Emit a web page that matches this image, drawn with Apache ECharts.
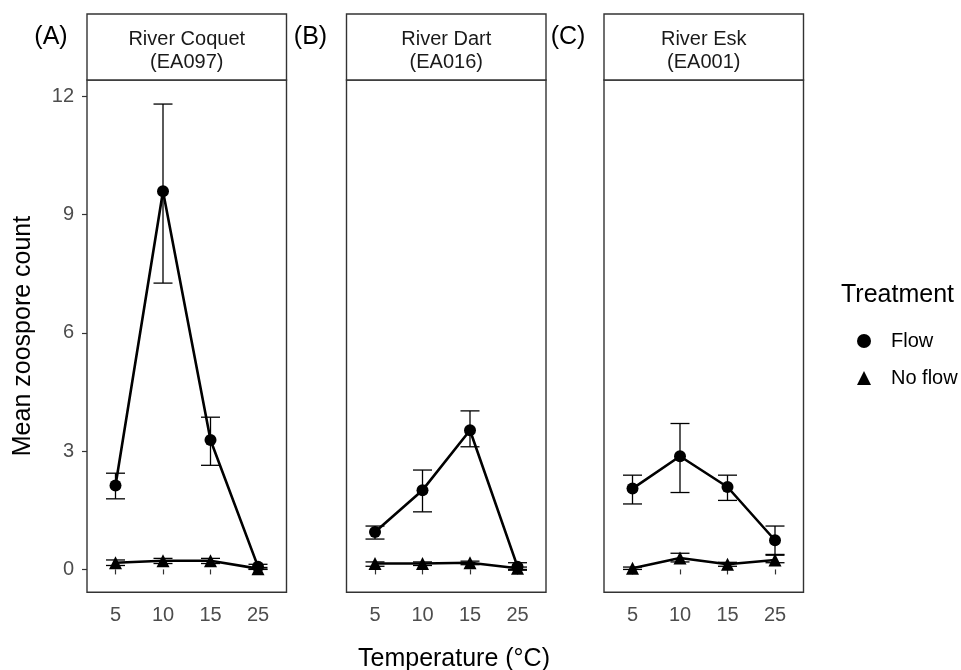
<!DOCTYPE html>
<html>
<head>
<meta charset="utf-8">
<script src="https://cdn.jsdelivr.net/npm/echarts@6/dist/echarts.min.js"></script>
<style>
  html, body { margin: 0; padding: 0; background: #fff; }
  #chart { width: 961px; height: 670px; }
</style>
</head>
<body>
<div id="chart"></div>
<script>
// temperatures (categories on x)
var tempLabels = ['5', '10', '15', '25'];
var yTicks = [0, 3, 6, 9, 12];

var riverNames = ['River Coquet', 'River Dart', 'River Esk'];
var riverCodes = ['(EA097)', '(EA016)', '(EA001)'];
var panelTags = ['(A)', '(B)', '(C)'];

// mean zoospore counts and error bar limits
var coquetFlow     = [2.13, 9.59, 3.28, 0.07];
var coquetFlowLo   = [1.79, 7.26, 2.64, 0.01];
var coquetFlowHi   = [2.44, 11.80, 3.86, 0.13];
var coquetNoFlow   = [0.17, 0.22, 0.22, 0.02];
var coquetNoFlowLo = [0.10, 0.15, 0.15, 0.00];
var coquetNoFlowHi = [0.24, 0.28, 0.28, 0.05];

var dartFlow     = [0.95, 2.01, 3.53, 0.07];
var dartFlowLo   = [0.77, 1.46, 3.11, -0.02];
var dartFlowHi   = [1.10, 2.52, 4.02, 0.17];
var dartNoFlow   = [0.15, 0.15, 0.17, 0.03];
var dartNoFlowLo = [0.08, 0.10, 0.12, 0.00];
var dartNoFlowHi = [0.19, 0.19, 0.21, 0.06];

var eskFlow     = [2.05, 2.87, 2.09, 0.74];
var eskFlowLo   = [1.66, 1.95, 1.75, 0.38];
var eskFlowHi   = [2.39, 3.70, 2.39, 1.10];
var eskNoFlow   = [0.03, 0.29, 0.13, 0.24];
var eskNoFlowLo = [0.00, 0.19, 0.08, 0.17];
var eskNoFlowHi = [0.06, 0.41, 0.18, 0.36];

var panels = [
  { flow: coquetFlow, flowLo: coquetFlowLo, flowHi: coquetFlowHi,
    noFlow: coquetNoFlow, noFlowLo: coquetNoFlowLo, noFlowHi: coquetNoFlowHi },
  { flow: dartFlow, flowLo: dartFlowLo, flowHi: dartFlowHi,
    noFlow: dartNoFlow, noFlowLo: dartNoFlowLo, noFlowHi: dartNoFlowHi },
  { flow: eskFlow, flowLo: eskFlowLo, flowHi: eskFlowHi,
    noFlow: eskNoFlow, noFlowLo: eskNoFlowLo, noFlowHi: eskNoFlowHi }
];

var font = 'Liberation Sans, Arial, sans-serif';
var gridLefts = [87, 346.5, 604];
var gridWidth = 199.5;
var gridTop = 80;
var gridHeight = 512.3;
var stripTop = 14;

var chart = echarts.init(document.getElementById('chart'), null, { renderer: 'canvas' });

function points(vals) {
  return vals.map(function (v, i) { return [i + 1, v]; });
}
function bars(lo, hi) {
  return lo.map(function (v, i) { return [i + 1, v, hi[i]]; });
}

function renderErrorBar(params, api) {
  var x = api.value(0);
  var pLo = api.coord([x, api.value(1)]);
  var pHi = api.coord([x, api.value(2)]);
  var half = api.size([0.2, 0])[0];
  var st = { stroke: '#000', lineWidth: 1.3 };
  return {
    type: 'group',
    children: [
      { type: 'line', shape: { x1: pLo[0], y1: pLo[1], x2: pHi[0], y2: pHi[1] }, style: st },
      { type: 'line', shape: { x1: pLo[0] - half, y1: pLo[1], x2: pLo[0] + half, y2: pLo[1] }, style: st },
      { type: 'line', shape: { x1: pHi[0] - half, y1: pHi[1], x2: pHi[0] + half, y2: pHi[1] }, style: st }
    ]
  };
}

var grids = [], xAxes = [], yAxes = [], series = [], graphics = [];

panels.forEach(function (p, k) {
  grids.push({
    left: gridLefts[k], top: gridTop, width: gridWidth, height: gridHeight,
    show: true, backgroundColor: '#fff', borderColor: '#333', borderWidth: 1.4,
    containLabel: false, outerBoundsMode: 'none'
  });
  xAxes.push({
    type: 'value', gridIndex: k, min: 0.4, max: 4.6,
    axisLine: { show: false },
    splitLine: { show: false },
    axisTick: { show: true, length: 5, customValues: [1, 2, 3, 4], lineStyle: { color: '#333', width: 1.2 } },
    axisLabel: {
      customValues: [1, 2, 3, 4], margin: 13,
      color: '#4D4D4D', fontSize: 20, fontFamily: font,
      formatter: function (v) { return tempLabels[Math.round(v) - 1]; }
    }
  });
  yAxes.push({
    type: 'value', gridIndex: k, min: -0.58, max: 12.41,
    axisLine: { show: false },
    splitLine: { show: false },
    axisTick: { show: k === 0, length: 5, customValues: yTicks, lineStyle: { color: '#333', width: 1.2 } },
    axisLabel: {
      show: k === 0, customValues: yTicks, margin: 13,
      color: '#4D4D4D', fontSize: 20, fontFamily: font
    }
  });

  series.push({
    type: 'custom', xAxisIndex: k, yAxisIndex: k, name: 'Flow',
    renderItem: renderErrorBar, data: bars(p.flowLo, p.flowHi),
    encode: { x: 0, y: [1, 2] }, silent: true, z: 3
  });
  series.push({
    type: 'custom', xAxisIndex: k, yAxisIndex: k, name: 'No flow',
    renderItem: renderErrorBar, data: bars(p.noFlowLo, p.noFlowHi),
    encode: { x: 0, y: [1, 2] }, silent: true, z: 3
  });
  series.push({
    type: 'line', name: 'Flow', xAxisIndex: k, yAxisIndex: k,
    data: points(p.flow), symbol: 'circle', symbolSize: 12,
    itemStyle: { color: '#000' }, lineStyle: { color: '#000', width: 2.6 },
    animation: false, z: 4
  });
  series.push({
    type: 'line', name: 'No flow', xAxisIndex: k, yAxisIndex: k,
    data: points(p.noFlow), symbol: 'triangle', symbolSize: 13,
    itemStyle: { color: '#000' }, lineStyle: { color: '#000', width: 2.6 },
    animation: false, z: 4
  });

  // facet strip
  graphics.push({
    type: 'rect',
    shape: { x: gridLefts[k], y: stripTop, width: gridWidth, height: gridTop - stripTop },
    style: { fill: '#fff', stroke: '#333', lineWidth: 1.4 }
  });
  graphics.push({
    type: 'text', x: gridLefts[k] + gridWidth / 2, y: 51,
    style: {
      text: riverNames[k] + '\n' + riverCodes[k], fill: '#1A1A1A',
      font: '20px ' + font, lineHeight: 23, align: 'center', verticalAlign: 'middle'
    }
  });
  graphics.push({
    type: 'text', x: gridLefts[k] - 36, y: 37,
    style: {
      text: panelTags[k], fill: '#000', font: '25px ' + font,
      align: 'center', verticalAlign: 'middle'
    }
  });
});

graphics.push({
  type: 'text', x: 23, y: 336, rotation: Math.PI / 2,
  style: { text: 'Mean zoospore count', fill: '#000', font: '25px ' + font, align: 'center', verticalAlign: 'middle' }
});
graphics.push({
  type: 'text', x: 454, y: 659,
  style: { text: 'Temperature (°C)', fill: '#000', font: '25px ' + font, align: 'center', verticalAlign: 'middle' }
});
graphics.push({
  type: 'text', x: 841, y: 295,
  style: { text: 'Treatment', fill: '#000', font: '25px ' + font, align: 'left', verticalAlign: 'middle' }
});

var option = {
  backgroundColor: '#fff',
  animation: false,
  grid: grids,
  xAxis: xAxes,
  yAxis: yAxes,
  legend: {
    orient: 'vertical', left: 852, top: 326,
    itemWidth: 14, itemHeight: 14, itemGap: 17,
    data: [{ name: 'Flow', icon: 'circle' }, { name: 'No flow', icon: 'triangle' }],
    itemStyle: { color: '#000' },
    textStyle: { color: '#000', fontSize: 20, fontFamily: font, padding: [0, 0, 0, 15] },
    selectedMode: false
  },
  series: series,
  graphic: graphics
};

chart.setOption(option);
</script>
</body>
</html>
